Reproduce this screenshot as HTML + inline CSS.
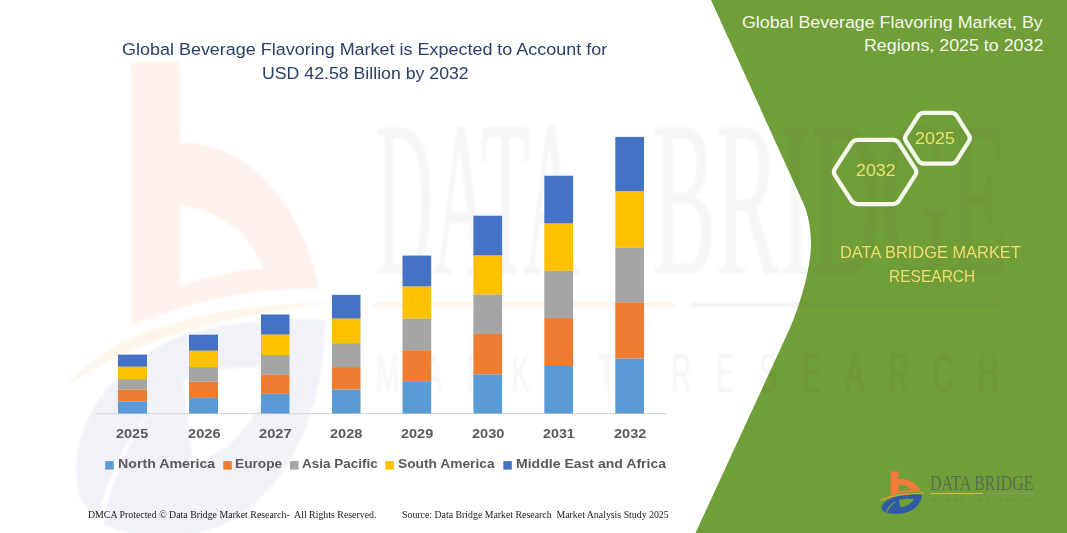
<!DOCTYPE html>
<html>
<head>
<meta charset="utf-8">
<title>Global Beverage Flavoring Market</title>
<style>
html,body{margin:0;padding:0;}
body{width:1067px;height:533px;overflow:hidden;background:#ffffff;position:relative;font-family:"Liberation Sans",sans-serif;}
#stage{position:absolute;left:0;top:0;width:1067px;height:533px;overflow:hidden;background:#fff;}
svg{position:absolute;left:0;top:0;}
.t{position:absolute;white-space:nowrap;line-height:1;transform-origin:0 0;}
.title{font-size:17px;color:#2a4068;}
.rt{font-size:17px;color:#f4f8ea;}
.dbmr{font-size:16.5px;color:#f2dc6c;}
.yr{font-size:13px;font-weight:bold;color:#595959;}
.lg{font-size:11.6px;font-weight:bold;color:#595959;}
.ft{font-family:"Liberation Serif",serif;font-size:10px;color:#1a1a1a;}
.hx{font-size:17px;color:#e9e26e;}
.lta{font-family:"Liberation Serif",serif;font-size:20px;color:#54704f;}
.ltb{font-size:5px;letter-spacing:2px;color:#67953a;}
</style>
</head>
<body>
<div id="stage">

<!-- watermark + green panel + chart -->
<svg id="bg" width="1067" height="533" viewBox="0 0 1067 533">
  <!-- green panel -->
  <path id="green" d="M711,0 L1067,0 L1067,533 L695.5,533 L790,328 C800,305 811,268 811,244 C811,230 808.5,214.5 803.5,203.5 Z" fill="#709e38"/>
  <!-- faint watermark (stretched logo) -->
  <defs><filter id="soft" x="-5%" y="-5%" width="110%" height="110%"><feGaussianBlur stdDeviation="1.2"/></filter></defs>
  <g id="wm" filter="url(#soft)">
    <g id="wmicon" transform="translate(131,62.5) scale(6.2,11.2) translate(-890.6,-471.6)">
      <path opacity="0.09" d="M890.6,471.6 L898.5,471.6 L898.5,478.8 C908,478.6 917.5,483 921,491.8 C912,491.6 900,492.8 890.6,495.2 Z M898.5,484.4 C904,484.6 909.5,486.6 912,490 C907,490.2 902.5,490.8 898.5,491.6 Z" fill="#f47a3a" fill-rule="evenodd"/>
      <path opacity="0.10" d="M880.2,500.6 C886,496.2 900,493.2 924,493 C902,494.4 889,497 880.2,500.6 Z" fill="#e2a23a"/>
      <path opacity="0.08" d="M882.4,510.6 C879.6,504 888,498 900,495.8 C908,494.6 916,494.4 921.8,494.6 C922,503.5 914,512 902,513.5 C896,514.2 890,513.9 886.2,512.8 C887.4,509 890.4,505 895.2,501.8 C890.4,504.4 886.8,508.4 885.2,512.4 Z M899,500 C903,498.9 909,498.6 913.8,498.9 C911.5,503.5 906,507 900.5,507.2 Z" fill="#2f5ba6" fill-rule="evenodd"/>
    </g>
    <rect x="374" y="302.5" width="300" height="4.5" fill="#f0a030" opacity="0.10"/>
    <rect x="691" y="302.5" width="313" height="4.5" fill="#707070" opacity="0.09"/>
    <text x="376" y="274" font-family="Liberation Serif, serif" font-size="222" fill="#404040" opacity="0.05" textLength="204" lengthAdjust="spacingAndGlyphs">DATA</text>
    <text x="652" y="274" font-family="Liberation Serif, serif" font-size="222" fill="#404040" opacity="0.05" textLength="356" lengthAdjust="spacingAndGlyphs">BRIDGE</text>
    <g transform="translate(376,392) scale(0.5,1)">
      <text x="0" y="0" font-family="Liberation Sans, sans-serif" font-size="56" fill="#404040" opacity="0.04" textLength="1244" lengthAdjust="spacing">MARKET RESEARCH</text>
    </g>
  </g>
  <!-- axis line -->
  <rect x="96" y="413" width="570.5" height="1.2" fill="#d9d9d9"/>
  <!-- bars -->
  <g id="bars">
    <rect x="118.0" y="354.6" width="29.0" height="12.2" fill="#4472c4"/>
    <rect x="118.0" y="366.8" width="29.0" height="12.4" fill="#ffc000"/>
    <rect x="118.0" y="379.2" width="29.0" height="10.4" fill="#a5a5a5"/>
    <rect x="118.0" y="389.6" width="29.0" height="11.9" fill="#ed7d31"/>
    <rect x="118.0" y="401.5" width="29.0" height="12.0" fill="#5b9bd5"/>
    <rect x="189.0" y="334.7" width="29.0" height="16.1" fill="#4472c4"/>
    <rect x="189.0" y="350.8" width="29.0" height="16.3" fill="#ffc000"/>
    <rect x="189.0" y="367.1" width="29.0" height="14.6" fill="#a5a5a5"/>
    <rect x="189.0" y="381.7" width="29.0" height="16.4" fill="#ed7d31"/>
    <rect x="189.0" y="398.1" width="29.0" height="15.4" fill="#5b9bd5"/>
    <rect x="261.0" y="314.5" width="28.5" height="20.2" fill="#4472c4"/>
    <rect x="261.0" y="334.7" width="28.5" height="20.3" fill="#ffc000"/>
    <rect x="261.0" y="355.0" width="28.5" height="19.7" fill="#a5a5a5"/>
    <rect x="261.0" y="374.7" width="28.5" height="19.1" fill="#ed7d31"/>
    <rect x="261.0" y="393.8" width="28.5" height="19.7" fill="#5b9bd5"/>
    <rect x="332.0" y="294.8" width="28.5" height="23.9" fill="#4472c4"/>
    <rect x="332.0" y="318.7" width="28.5" height="24.5" fill="#ffc000"/>
    <rect x="332.0" y="343.2" width="28.5" height="23.9" fill="#a5a5a5"/>
    <rect x="332.0" y="367.1" width="28.5" height="22.5" fill="#ed7d31"/>
    <rect x="332.0" y="389.6" width="28.5" height="23.9" fill="#5b9bd5"/>
    <rect x="402.5" y="255.6" width="28.7" height="31.0" fill="#4472c4"/>
    <rect x="402.5" y="286.6" width="28.7" height="32.1" fill="#ffc000"/>
    <rect x="402.5" y="318.7" width="28.7" height="31.5" fill="#a5a5a5"/>
    <rect x="402.5" y="350.2" width="28.7" height="31.0" fill="#ed7d31"/>
    <rect x="402.5" y="381.2" width="28.7" height="32.3" fill="#5b9bd5"/>
    <rect x="473.4" y="215.7" width="28.7" height="39.9" fill="#4472c4"/>
    <rect x="473.4" y="255.6" width="28.7" height="38.9" fill="#ffc000"/>
    <rect x="473.4" y="294.5" width="28.7" height="39.4" fill="#a5a5a5"/>
    <rect x="473.4" y="333.9" width="28.7" height="40.5" fill="#ed7d31"/>
    <rect x="473.4" y="374.4" width="28.7" height="39.1" fill="#5b9bd5"/>
    <rect x="544.3" y="175.7" width="28.8" height="47.9" fill="#4472c4"/>
    <rect x="544.3" y="223.6" width="28.8" height="47.2" fill="#ffc000"/>
    <rect x="544.3" y="270.8" width="28.8" height="47.3" fill="#a5a5a5"/>
    <rect x="544.3" y="318.1" width="28.8" height="47.9" fill="#ed7d31"/>
    <rect x="544.3" y="366.0" width="28.8" height="47.5" fill="#5b9bd5"/>
    <rect x="615.3" y="136.9" width="28.7" height="54.6" fill="#4472c4"/>
    <rect x="615.3" y="191.5" width="28.7" height="56.3" fill="#ffc000"/>
    <rect x="615.3" y="247.8" width="28.7" height="54.6" fill="#a5a5a5"/>
    <rect x="615.3" y="302.4" width="28.7" height="56.2" fill="#ed7d31"/>
    <rect x="615.3" y="358.6" width="28.7" height="54.9" fill="#5b9bd5"/>
  </g>
  <!-- legend squares -->
  <g id="legsq">
    <rect x="105.2" y="461.1" width="8.5" height="8.5" fill="#5b9bd5"/>
    <rect x="223.3" y="461.1" width="8.5" height="8.5" fill="#ed7d31"/>
    <rect x="290.0" y="461.1" width="8.5" height="8.5" fill="#a5a5a5"/>
    <rect x="385.3" y="461.1" width="8.5" height="8.5" fill="#ffc000"/>
    <rect x="503.3" y="461.1" width="8.5" height="8.5" fill="#4472c4"/>
  </g>
  <!-- small logo bottom right -->
  <g id="logo">
    <path d="M890.6,471.6 L898.5,471.6 L898.5,478.8 C908,478.6 917.5,483 921,491.8 C912,491.6 900,492.8 890.6,495.2 Z M898.5,484.4 C904,484.6 909.5,486.6 912,490 C907,490.2 902.5,490.8 898.5,491.6 Z" fill="#f47a3a" fill-rule="evenodd"/>
    <path d="M880.2,500.6 C886,496.2 900,493.2 924,493 C902,494.4 889,497 880.2,500.6 Z" fill="#e2a23a" stroke="#e2a23a" stroke-width="0.6"/>
    <path d="M882.4,510.6 C879.6,504 888,498 900,495.8 C908,494.6 916,494.4 921.8,494.6 C922,503.5 914,512 902,513.5 C896,514.2 890,513.9 886.2,512.8 Z M899,500 C903,498.9 909,498.6 913.8,498.9 C911.5,503.5 906,507 900.5,507.2 Z" fill="#2f5ba6" fill-rule="evenodd"/>
    <path d="M886.4,512.9 C887.5,509 890.5,505 895.2,501.8" fill="none" stroke="#709e38" stroke-width="1.2"/>
    <rect x="930.7" y="493" width="52.6" height="1" fill="#d9b93a"/>
    <rect x="986" y="493" width="47" height="1" fill="#83996a"/>
  </g>
  <!-- hexagons -->
  <g id="hex" fill="none" stroke="#f3f8ea" stroke-width="4.2" stroke-linejoin="round">
    <path d="M835.0,175.4 Q832.8,172.0 835.0,168.6 L851.4,143.3 Q853.6,139.9 857.6,139.9 L892.8,139.9 Q896.8,139.9 899.0,143.3 L915.2,168.6 Q917.4,172.0 915.2,175.4 L899.0,200.7 Q896.8,204.1 892.8,204.1 L857.6,204.1 Q853.6,204.1 851.4,200.7 Z"/>
    <path d="M905.9,141.2 Q904.0,138.2 905.9,135.3 L918.3,115.8 Q920.2,112.9 923.7,112.9 L951.3,112.9 Q954.8,112.9 956.7,115.9 L968.9,135.2 Q970.8,138.2 968.9,141.2 L956.7,160.6 Q954.8,163.6 951.3,163.6 L923.7,163.6 Q920.2,163.6 918.3,160.6 Z"/>
  </g>
</svg>

<!-- chart title -->
<div class="t title" id="t1" style="left:122.37px;top:41.04px;font-size:17.2px;transform:scaleX(1.045);">Global Beverage Flavoring Market is Expected to Account for</div>
<div class="t title" id="t2" style="left:261.55px;top:64.64px;font-size:17.2px;transform:scaleX(1.0302);">USD 42.58 Billion by 2032</div>

<!-- right panel title -->
<div class="t rt" id="r1" style="left:742.38px;top:13.67px;font-size:17.4px;transform:scaleX(1.0236);">Global Beverage Flavoring Market, By</div>
<div class="t rt" id="r2" style="left:864.33px;top:37.37px;font-size:17.4px;transform:scaleX(1.0245);">Regions, 2025 to 2032</div>

<!-- hexagon labels -->
<div class="t hx" id="h1" style="left:856.18px;top:161.94px;font-size:17.2px;transform:scaleX(1.0333);">2032</div>
<div class="t hx" id="h2" style="left:915.37px;top:130.44px;font-size:17.2px;transform:scaleX(1.042);">2025</div>

<!-- DBMR text -->
<div class="t dbmr" id="d1" style="left:839.87px;top:244.95px;font-size:16.6px;transform:scaleX(0.9888);">DATA BRIDGE MARKET</div>
<div class="t dbmr" id="d2" style="left:889.34px;top:268.95px;font-size:16.6px;transform:scaleX(0.9356);">RESEARCH</div>

<!-- year labels -->
<div class="t yr" id="y25" style="left:115.61px;top:426.9px;font-size:13px;transform:scaleX(1.113);">2025</div>
<div class="t yr" id="y26" style="left:187.8px;top:426.9px;font-size:13px;transform:scaleX(1.1271);">2026</div>
<div class="t yr" id="y27" style="left:258.8px;top:426.9px;font-size:13px;transform:scaleX(1.1297);">2027</div>
<div class="t yr" id="y28" style="left:330.41px;top:426.9px;font-size:13px;transform:scaleX(1.1225);">2028</div>
<div class="t yr" id="y29" style="left:401.01px;top:426.9px;font-size:13px;transform:scaleX(1.1135);">2029</div>
<div class="t yr" id="y30" style="left:471.81px;top:426.9px;font-size:13px;transform:scaleX(1.1228);">2030</div>
<div class="t yr" id="y31" style="left:542.92px;top:426.9px;font-size:13px;transform:scaleX(1.1003);">2031</div>
<div class="t yr" id="y32" style="left:613.71px;top:426.9px;font-size:13px;transform:scaleX(1.1196);">2032</div>

<!-- legend labels -->
<div class="t lg" id="l1" style="left:118.12px;top:457.93px;font-size:12.6px;transform:scaleX(1.1269);">North America</div>
<div class="t lg" id="l2" style="left:234.74px;top:457.93px;font-size:12.6px;transform:scaleX(1.0891);">Europe</div>
<div class="t lg" id="l3" style="left:301.97px;top:457.93px;font-size:12.6px;transform:scaleX(1.0728);">Asia Pacific</div>
<div class="t lg" id="l4" style="left:398.12px;top:457.93px;font-size:12.6px;transform:scaleX(1.0928);">South America</div>
<div class="t lg" id="l5" style="left:515.52px;top:457.93px;font-size:12.6px;transform:scaleX(1.1153);">Middle East and Africa</div>

<!-- footer -->
<div class="t ft" id="f1" style="left:87.59px;top:509.54px;font-size:10px;transform:scaleX(0.985);">DMCA Protected &copy; Data Bridge Market Research-&nbsp; All Rights Reserved.</div>
<div class="t ft" id="f2" style="left:401.96px;top:509.54px;font-size:10px;transform:scaleX(0.9829);">Source: Data Bridge Market Research&nbsp; Market Analysis Study 2025</div>

<!-- logo text -->
<div class="t lta" id="lt1" style="left:930.1px;top:473.13px;font-size:20.4px;transform:scaleX(0.7801);">DATA BRIDGE</div>
<div class="t ltb" id="lt2" style="left:931.0px;top:498.07px;font-size:5px;transform:scaleX(1.3051);">MARKET RESEARCH</div>



</div>
</body>
</html>
